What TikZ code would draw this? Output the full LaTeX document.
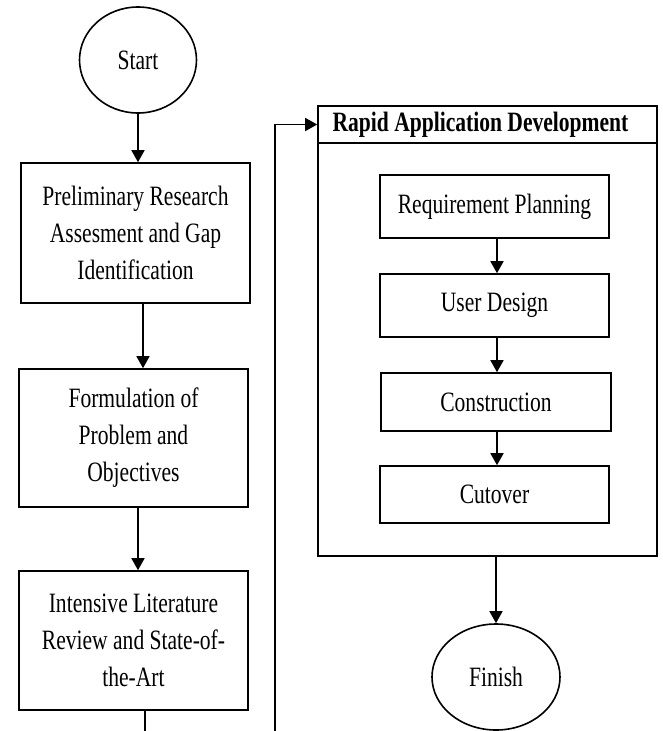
\documentclass[tikz,border=0pt]{standalone}
\usepackage{fontspec}
\setmainfont[FakeStretch=0.77]{Liberation Serif}
\usetikzlibrary{arrows.meta,shapes.geometric}
\tikzset{
  base/.style={draw=black, line width=1.6pt, inner sep=0pt, align=center,
    font=\fontsize{28}{37}\selectfont},
  procbox/.style={base, rectangle},
  termnode/.style={base, ellipse},
  conn/.style={line width=1.6pt, -{Triangle[width=13pt,length=12pt]}},
  plain/.style={line width=1.6pt},
}
\begin{document}
\begin{tikzpicture}[x=1pt,y=-1pt]
\useasboundingbox[fill=white] (0,0) rectangle (663,731);
% left column
\node[termnode, minimum width=117pt, minimum height=106pt] (start) at (138,60) {Start};
\node[procbox, minimum width=229pt, minimum height=140pt] (prelim) at (135.5,233)
  {Preliminary Research\\Assesment and Gap\\Identification};
\node[procbox, minimum width=229pt, minimum height=138pt] (form) at (133.5,438)
  {Formulation of\\Problem and\\Objectives};
\node[procbox, minimum width=229pt, minimum height=139pt] (intens) at (133.5,640.5)
  {Intensive Literature\\Review and State-of-\\the-Art};
% RAD container
\node[procbox, minimum width=339pt, minimum height=450pt] (rad) at (487.5,331) {};
\node[procbox, minimum width=339pt, minimum height=37pt, font=\fontsize{28}{30}\selectfont\bfseries] (radtitle) at (487.5,124.5)
  {Rapid Application Development\hspace*{14pt}};
\node[procbox, minimum width=229pt, minimum height=63pt] (req) at (494.5,206.5) {Requirement Planning};
\node[procbox, minimum width=229pt, minimum height=63pt] (user) at (494.5,305.5) {User Design};
\node[procbox, minimum width=230pt, minimum height=58pt] (constr) at (496,402) {Construction};
\node[procbox, minimum width=229pt, minimum height=57pt] (cut) at (494.5,494.5) {Cutover};
\node[termnode, minimum width=128pt, minimum height=106pt] (finish) at (496,677) {Finish};
% free ends
\coordinate (loopend) at (275,731);
\coordinate (intend) at (145,731);
% connectors
\draw[conn] (start.south) -- (start.south |- prelim.north);
\draw[conn] ([xshift=7.5pt]prelim.south) -- ([xshift=7.5pt]prelim.south |- form.north);
\draw[conn] ([xshift=4.5pt]form.south) -- ([xshift=4.5pt]form.south |- intens.north);
\draw[plain] (intend |- intens.south) -- (intend);
\draw[conn] (loopend) |- (radtitle.west);
\draw[conn] ([xshift=2.5pt]req.south) -- ([xshift=2.5pt]req.south |- user.north);
\draw[conn] ([xshift=2.5pt]user.south) -- ([xshift=2.5pt]user.south |- constr.north);
\draw[conn] ([xshift=1pt]constr.south) -- ([xshift=1pt]constr.south |- cut.north);
\draw[conn] (finish.north |- rad.south) -- (finish.north);
\end{tikzpicture}
\end{document}
